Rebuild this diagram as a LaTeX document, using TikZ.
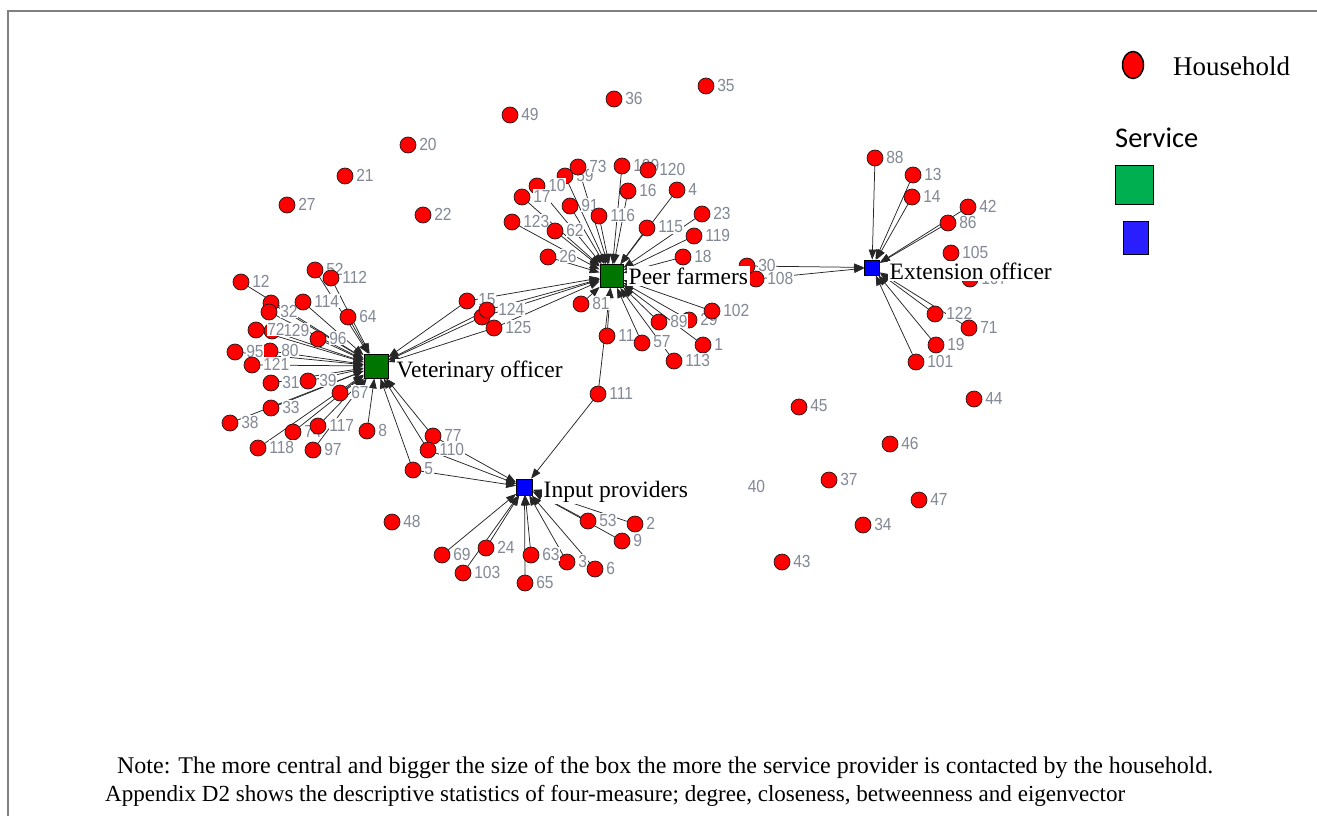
\documentclass[tikz,border=0pt]{standalone}
\usepackage{fontspec}
\usepackage{graphicx}
\setmainfont{Liberation Serif}
\newfontfamily\numfont[FakeStretch=0.89]{Liberation Sans}
\newfontfamily\calfont{Carlito}
\usetikzlibrary{arrows.meta,shapes.geometric}
\definecolor{numgray}{RGB}{130,136,148}
\definecolor{hubgreen}{RGB}{0,118,0}
\definecolor{hubblue}{RGB}{0,0,255}
\definecolor{leggreen}{RGB}{0,176,80}
\definecolor{legblue}{RGB}{40,30,255}
\definecolor{framegray}{RGB}{128,128,128}

% households: name / x / y / label  (drawing order = list order)
\def\hhlist{%
h35/706/86/35, h36/614/99/36, h49/510/115/49, h20/408/145/20, h21/345/176/21,
h27/287/205/27, h22/423/215/22, h48/392/522/48, h45/799/407/45, h44/974/399/44,
h46/890/444/46, h37/829/480/37, h47/919/500/47, h34/863/525/34, h43/782/562/43,
h59/565/176/59, h73/578/167/73, h10/537/186/10, h17/522/197/17, h109/622/166/109,
h120/648/170/120, h16/628/191/16, h4/677/190/4, h91/570/206/91, h116/599/216/116,
h23/702/214/23, h123/512/222/123, h62/555/231/62, h115/647/228/115, h119/694/236/119,
h18/683/257/18, h26/548/257/26, h30/747/266/30, h108/756/279/108, h81/581/304/81,
h29/689/320/29, h89/659/322/89, h102/712/311/102, h11/607/336/11, h1/703/345/1,
h57/642/343/57, h113/674/361/113, h15/467/301/15, h124b/482/317/{}, h124/487/310/124,
h125/494/328/125, h111/598/394/111,
h52/315/270/52, h112/331/278/112, h12/241/282/12, h32a/271/303/{}, h32/269/312/32,
h114/303/302/114, h64/348/317/64, h129/272/331/129, h72/256/330/72, h96/318/339/96,
h90/270/351/80, h95/235/352/95, h121/252/365/121, h31/271/383/31, h39/308/381/39,
h67/340/393/67, h33/271/408/33, h38/230/423/38, h7/293/432/74, h117/318/426/117,
h8/367/431/8, h118/258/448/118, h97/313/450/97,
h77/433/436/77, h110/428/450/110, h5/413/470/5, h53/588/521/53, h2/635/524/2,
h9/622/541/9, h69/442/555/69, h24/486/548/24, h103/463/573/103, h3/567/562/3,
h63/531/555/63, h6/595/569/6, h65/525/583/65,
h88/875/158/88, h13/913/175/13, h14/912/197/14, h42/968/207/42, h86/948/223/86,
h105/951/253/105, h107/970/279/107, h122/935/314/122, h71/969/328/71, h19/936/345/19,
h101/916/362/101}

\begin{document}
\begin{tikzpicture}[x=1pt,y=-1pt,
  hhanchor/.style={circle,minimum size=16pt,inner sep=0pt},
  hh/.style={circle,draw=black!90,fill=red,line width=0.7pt,minimum size=16pt,inner sep=0pt},
  numlbl/.style={font=\numfont\fontsize{17.5}{17.5}\selectfont,text=numgray,fill=white,inner sep=0.6pt,anchor=west},
  hub/.style={draw=black,line width=0.8pt,inner sep=0pt},
  hublbl/.style={font=\fontsize{23.5}{24}\selectfont,fill=white,inner sep=1.5pt,anchor=base west},
  tie/.style={draw=black!85,line width=0.75pt,-{Triangle[length=10pt,width=7.5pt]}},
  legtext/.style={anchor=base west,inner sep=0pt},
]
\useasboundingbox (0,0) rectangle (1317,816);

% frame
\draw[framegray,line width=2pt] (1317,11) -- (7.5,11) -- (7.5,816);

% service providers
\node[hub,fill=hubgreen,minimum size=23pt] (peer) at (611.5,276) {};
\node[hub,fill=hubgreen,minimum size=24pt] (vet) at (376,366) {};
\node[hub,fill=hubblue,minimum size=16pt] (inp) at (524.5,487) {};
\node[hub,fill=hubblue,minimum size=15pt] (ext) at (872,267.5) {};

% anchors for the households
\foreach \n/\x/\y/\l in \hhlist {\node[hhanchor] (\n) at (\x,\y) {};}

% contacts
\foreach \n in {h73,h109,h59,h10,h17,h16,h4,h91,h116,h23,h123,h62,h115,h119,h18,h26,
  h81,h102,h89,h29,h1,h57,h113,h15,h124,h124b,h125,h11,h111}
  \draw[tie] (\n) -- (peer);
\foreach \n in {h52,h112,h12,h32a,h32,h114,h64,h72,h129,h96,h95,h90,h121,h31,h39,h67,
  h33,h38,h117,h8,h7,h118,h97,h15,h124,h124b,h125,h77,h110,h5}
  \draw[tie] (\n) -- (vet);
\foreach \n in {h77,h110,h5,h111,h53,h2,h9,h69,h24,h103,h63,h3,h6,h65}
  \draw[tie] (\n) -- (inp);
\foreach \n in {h88,h13,h14,h42,h86,h122,h71,h19,h101,h30,h108}
  \draw[tie] (\n) -- (ext);

% household markers with their numbers
\foreach \n/\x/\y/\l in \hhlist {
  \node[hh] at (\x,\y) {};
  \node[numlbl] at ({\x+10.5},{\y-1}) {\l};
}
\node[numlbl] (l40) at (747,486) {40};

% provider names
\node[hublbl] (peerlbl) at (627,284) {Peer farmers};
\node[hublbl] (vetlbl) at (395,377) {Veterinary officer};
\node[hublbl] (inplbl) at (542,497) {Input providers};
\node[hublbl] (extlbl) at (888,279) {Extension officer};

% legend
\node[ellipse,draw=black,line width=1.5pt,fill=red,minimum width=21pt,minimum height=27pt,inner sep=0pt] (legHH) at (1133,65) {};
\node[legtext,font=\fontsize{27}{27}\selectfont] (legHHtext) at (1173,75) {Household};
\node[legtext,font=\calfont\fontsize{28.5}{28.5}\selectfont] (legServ) at (1115,147) {Service};
\node[draw=black,line width=1.5pt,fill=leggreen,minimum width=38pt,minimum height=39pt,inner sep=0pt] (legG) at (1134.7,185) {};
\node[draw=black,line width=1.5pt,fill=legblue,minimum width=25pt,minimum height=33pt,inner sep=0pt] (legB) at (1136,238) {};

% note
\node[legtext] (note1) at (117,773) {\resizebox{1096pt}{!}{\fontsize{22}{22}\selectfont Note: The more central and bigger the size of the box the more the service provider is contacted by the household.}};
\node[legtext] (note2) at (105,801) {\resizebox{1020pt}{!}{\fontsize{22}{22}\selectfont Appendix D2 shows the descriptive statistics of four-measure; degree, closeness, betweenness and eigenvector}};
\end{tikzpicture}
\end{document}
